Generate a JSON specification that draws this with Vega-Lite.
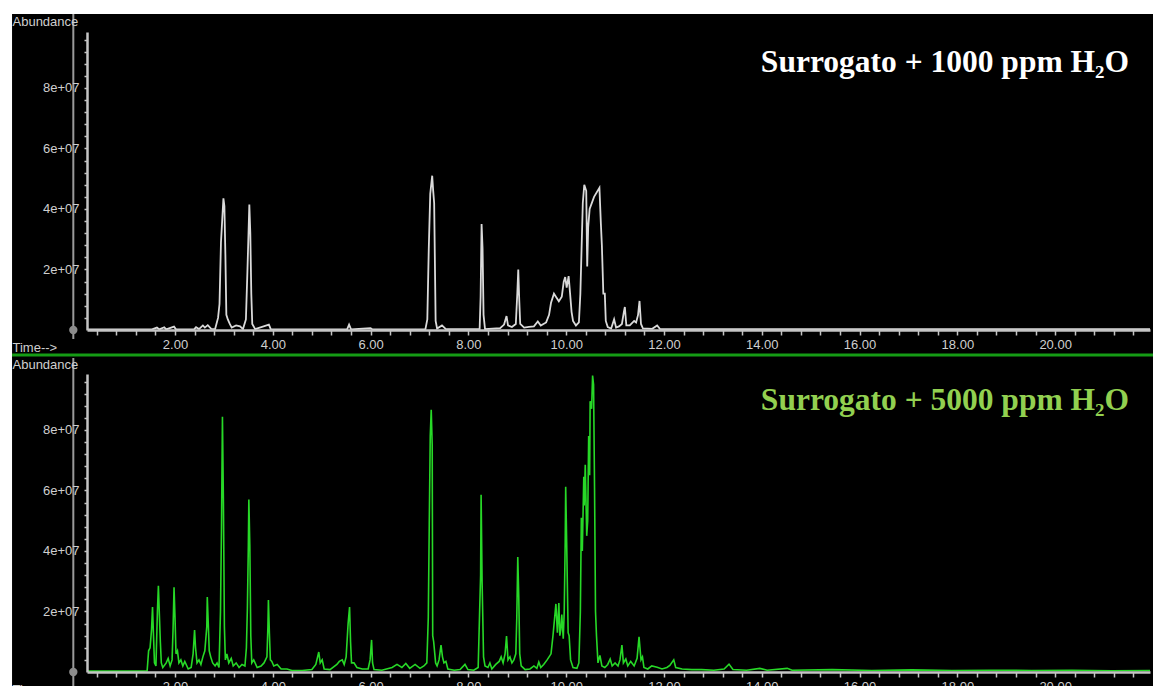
{
  "$schema": "https://vega.github.io/schema/vega-lite/v6.json",
  "background": "white",
  "padding": {"left": 10, "top": 12, "right": 0, "bottom": 0},
  "bounds": "flush",
  "spacing": 44,
  "config": {
    "view": {"stroke": null},
    "axis": {"grid": false, "labelOverlap": false, "domainColor": "#c4c4c4", "domainWidth": 2.5, "tickColor": "#c4c4c4", "tickWidth": 1.5, "labelColor": "#cfcfcf", "labelFont": "Liberation Sans", "labelFontSize": 13, "titleColor": "#cfcfcf", "titleFont": "Liberation Sans", "titleFontSize": 13, "titleFontWeight": "normal"}
  },
  "datasets": {
    "top": [
      {"time":0.2,"abundance":2e5},{"time":1.53,"abundance":2e5},{"time":1.63,"abundance":8e5},{"time":1.68,"abundance":2e5},{"time":1.78,"abundance":9e5},{"time":1.82,"abundance":2e5},{"time":1.98,"abundance":1.1e6},{"time":2.02,"abundance":2e5},{"time":2.39,"abundance":2e5},{"time":2.43,"abundance":9e5},{"time":2.49,"abundance":3e5},{"time":2.57,"abundance":1.5e6},{"time":2.61,"abundance":8e5},{"time":2.67,"abundance":1.6e6},{"time":2.74,"abundance":4e5},{"time":2.82,"abundance":3e5},{"time":2.88,"abundance":4e6},{"time":2.91,"abundance":8.6e6},{"time":2.94,"abundance":2.9e7},{"time":2.99,"abundance":4.35e7},{"time":3.01,"abundance":4.1e7},{"time":3.03,"abundance":2.5e7},{"time":3.05,"abundance":5e6},{"time":3.08,"abundance":3.5e6},{"time":3.12,"abundance":2e6},{"time":3.16,"abundance":8e5},{"time":3.25,"abundance":1.5e6},{"time":3.33,"abundance":1.2e6},{"time":3.39,"abundance":3e5},{"time":3.45,"abundance":3.5e6},{"time":3.48,"abundance":1.9e7},{"time":3.52,"abundance":4.15e7},{"time":3.54,"abundance":3.2e7},{"time":3.56,"abundance":1.2e7},{"time":3.58,"abundance":2e6},{"time":3.64,"abundance":3e5},{"time":3.92,"abundance":1.8e6},{"time":3.96,"abundance":2e5},{"time":5.52,"abundance":2e5},{"time":5.56,"abundance":1.8e6},{"time":5.6,"abundance":2e5},{"time":6.0,"abundance":6e5},{"time":6.04,"abundance":2e5},{"time":7.12,"abundance":2e5},{"time":7.16,"abundance":3.5e6},{"time":7.19,"abundance":2.7e7},{"time":7.22,"abundance":4.5e7},{"time":7.26,"abundance":5.1e7},{"time":7.28,"abundance":4.6e7},{"time":7.3,"abundance":4.2e7},{"time":7.33,"abundance":3e6},{"time":7.36,"abundance":5e5},{"time":7.46,"abundance":1.5e6},{"time":7.54,"abundance":3e5},{"time":8.23,"abundance":3e5},{"time":8.25,"abundance":1.1e7},{"time":8.27,"abundance":3.5e7},{"time":8.29,"abundance":2.7e7},{"time":8.31,"abundance":5e6},{"time":8.34,"abundance":3e5},{"time":8.65,"abundance":6e5},{"time":8.73,"abundance":1.8e6},{"time":8.78,"abundance":4.6e6},{"time":8.81,"abundance":1.5e6},{"time":8.89,"abundance":1e6},{"time":8.97,"abundance":2e6},{"time":9.0,"abundance":1.2e7},{"time":9.02,"abundance":2e7},{"time":9.04,"abundance":1e7},{"time":9.06,"abundance":2e6},{"time":9.14,"abundance":8e5},{"time":9.24,"abundance":1e6},{"time":9.34,"abundance":1.2e6},{"time":9.42,"abundance":2.8e6},{"time":9.48,"abundance":1.5e6},{"time":9.59,"abundance":2.5e6},{"time":9.65,"abundance":5e6},{"time":9.69,"abundance":9e6},{"time":9.75,"abundance":1.2e7},{"time":9.79,"abundance":1.1e7},{"time":9.85,"abundance":9.5e6},{"time":9.91,"abundance":1.1e7},{"time":9.95,"abundance":1.6e7},{"time":9.98,"abundance":1.75e7},{"time":10.01,"abundance":1.4e7},{"time":10.05,"abundance":1.78e7},{"time":10.08,"abundance":1.2e7},{"time":10.11,"abundance":6e6},{"time":10.14,"abundance":3e6},{"time":10.2,"abundance":1.5e6},{"time":10.26,"abundance":2.5e6},{"time":10.29,"abundance":1.2e7},{"time":10.32,"abundance":3e7},{"time":10.34,"abundance":4.2e7},{"time":10.37,"abundance":4.8e7},{"time":10.41,"abundance":4.6e7},{"time":10.43,"abundance":2.1e7},{"time":10.45,"abundance":3.4e7},{"time":10.48,"abundance":4e7},{"time":10.57,"abundance":4.4e7},{"time":10.68,"abundance":4.7e7},{"time":10.71,"abundance":3.5e7},{"time":10.73,"abundance":2.8e7},{"time":10.76,"abundance":1.2e7},{"time":10.79,"abundance":1.2e7},{"time":10.81,"abundance":3e6},{"time":10.85,"abundance":1e6},{"time":10.92,"abundance":5e5},{"time":10.98,"abundance":3.5e6},{"time":11.02,"abundance":8e5},{"time":11.08,"abundance":1.2e6},{"time":11.14,"abundance":2e6},{"time":11.18,"abundance":6e6},{"time":11.2,"abundance":7.6e6},{"time":11.23,"abundance":1.5e6},{"time":11.3,"abundance":1.5e6},{"time":11.39,"abundance":3e6},{"time":11.43,"abundance":2.5e6},{"time":11.47,"abundance":5e6},{"time":11.5,"abundance":9.6e6},{"time":11.53,"abundance":2e6},{"time":11.57,"abundance":5e5},{"time":11.76,"abundance":4e5},{"time":11.86,"abundance":1.5e6},{"time":11.92,"abundance":3e5},{"time":21.94,"abundance":3e5}
    ],
    "bottom": [
      {"time":0.2,"abundance":3e5},{"time":1.33,"abundance":3e5},{"time":1.43,"abundance":4e5},{"time":1.46,"abundance":7e6},{"time":1.49,"abundance":8e6},{"time":1.52,"abundance":1.4e7},{"time":1.54,"abundance":2.15e7},{"time":1.56,"abundance":1.2e7},{"time":1.58,"abundance":3e6},{"time":1.61,"abundance":2e6},{"time":1.64,"abundance":2e7},{"time":1.66,"abundance":2.85e7},{"time":1.68,"abundance":1.9e7},{"time":1.7,"abundance":1e7},{"time":1.72,"abundance":3e6},{"time":1.75,"abundance":1.5e6},{"time":1.82,"abundance":3e6},{"time":1.86,"abundance":4.5e6},{"time":1.9,"abundance":2e6},{"time":1.94,"abundance":4e6},{"time":1.96,"abundance":1.4e7},{"time":1.98,"abundance":2.8e7},{"time":2.0,"abundance":1.8e7},{"time":2.02,"abundance":6e6},{"time":2.05,"abundance":7e6},{"time":2.08,"abundance":3e6},{"time":2.12,"abundance":4e6},{"time":2.16,"abundance":2e6},{"time":2.2,"abundance":3.5e6},{"time":2.27,"abundance":1e6},{"time":2.33,"abundance":1.5e6},{"time":2.37,"abundance":6e6},{"time":2.4,"abundance":1.39e7},{"time":2.42,"abundance":8e6},{"time":2.45,"abundance":3e6},{"time":2.49,"abundance":4e6},{"time":2.53,"abundance":2.5e6},{"time":2.57,"abundance":5e6},{"time":2.61,"abundance":7e6},{"time":2.65,"abundance":1.5e7},{"time":2.66,"abundance":2.48e7},{"time":2.68,"abundance":1.6e7},{"time":2.7,"abundance":7e6},{"time":2.73,"abundance":5e6},{"time":2.77,"abundance":3e6},{"time":2.82,"abundance":2e6},{"time":2.86,"abundance":3e6},{"time":2.9,"abundance":1.5e6},{"time":2.93,"abundance":2e7},{"time":2.95,"abundance":4.7e7},{"time":2.97,"abundance":8.44e7},{"time":2.99,"abundance":5.6e7},{"time":3.01,"abundance":1.5e7},{"time":3.03,"abundance":4e6},{"time":3.06,"abundance":6e6},{"time":3.1,"abundance":3e6},{"time":3.15,"abundance":4.5e6},{"time":3.19,"abundance":2e6},{"time":3.25,"abundance":3e6},{"time":3.31,"abundance":1.5e6},{"time":3.37,"abundance":2.5e6},{"time":3.43,"abundance":2e6},{"time":3.46,"abundance":8e6},{"time":3.48,"abundance":2.1e7},{"time":3.5,"abundance":4.2e7},{"time":3.51,"abundance":5.7e7},{"time":3.53,"abundance":4.2e7},{"time":3.55,"abundance":1.2e7},{"time":3.57,"abundance":3e6},{"time":3.61,"abundance":4e6},{"time":3.68,"abundance":1.5e6},{"time":3.76,"abundance":2e6},{"time":3.82,"abundance":3e6},{"time":3.88,"abundance":5e6},{"time":3.9,"abundance":1.5e7},{"time":3.91,"abundance":2.38e7},{"time":3.93,"abundance":1.3e7},{"time":3.95,"abundance":4e6},{"time":3.98,"abundance":3.5e6},{"time":4.02,"abundance":2e6},{"time":4.09,"abundance":2.5e6},{"time":4.17,"abundance":1e6},{"time":4.29,"abundance":1e6},{"time":4.39,"abundance":5e5},{"time":4.6,"abundance":5e5},{"time":4.8,"abundance":8e5},{"time":4.88,"abundance":2.5e6},{"time":4.94,"abundance":6.6e6},{"time":4.97,"abundance":3e6},{"time":5.01,"abundance":4e6},{"time":5.05,"abundance":1e6},{"time":5.17,"abundance":8e5},{"time":5.31,"abundance":2.5e6},{"time":5.36,"abundance":3.5e6},{"time":5.42,"abundance":4e6},{"time":5.46,"abundance":2.5e6},{"time":5.5,"abundance":5e6},{"time":5.54,"abundance":1.6e7},{"time":5.57,"abundance":2.15e7},{"time":5.59,"abundance":1e7},{"time":5.61,"abundance":3e6},{"time":5.66,"abundance":3e6},{"time":5.72,"abundance":1.5e6},{"time":5.83,"abundance":1e6},{"time":5.95,"abundance":1e6},{"time":5.99,"abundance":4e6},{"time":6.02,"abundance":1.06e7},{"time":6.04,"abundance":3e6},{"time":6.07,"abundance":8e5},{"time":6.23,"abundance":6e5},{"time":6.44,"abundance":1.5e6},{"time":6.54,"abundance":2.5e6},{"time":6.64,"abundance":1.5e6},{"time":6.72,"abundance":2.8e6},{"time":6.8,"abundance":1.2e6},{"time":6.91,"abundance":2.5e6},{"time":7.01,"abundance":1.2e6},{"time":7.09,"abundance":2e6},{"time":7.15,"abundance":3e6},{"time":7.18,"abundance":1.8e7},{"time":7.2,"abundance":4.9e7},{"time":7.22,"abundance":7.8e7},{"time":7.24,"abundance":8.67e7},{"time":7.26,"abundance":7.5e7},{"time":7.27,"abundance":1.2e7},{"time":7.29,"abundance":1e7},{"time":7.33,"abundance":3e6},{"time":7.36,"abundance":2e6},{"time":7.4,"abundance":4e6},{"time":7.44,"abundance":8.9e6},{"time":7.47,"abundance":5e6},{"time":7.5,"abundance":3e6},{"time":7.54,"abundance":3.5e6},{"time":7.58,"abundance":1e6},{"time":7.71,"abundance":6e5},{"time":7.83,"abundance":8e5},{"time":7.93,"abundance":2.5e6},{"time":7.99,"abundance":8e5},{"time":8.11,"abundance":6e5},{"time":8.2,"abundance":1.5e6},{"time":8.23,"abundance":2e7},{"time":8.25,"abundance":3.2e7},{"time":8.26,"abundance":5.86e7},{"time":8.28,"abundance":3e7},{"time":8.31,"abundance":5e6},{"time":8.34,"abundance":2e6},{"time":8.4,"abundance":1.5e6},{"time":8.44,"abundance":3e6},{"time":8.48,"abundance":1e6},{"time":8.56,"abundance":2.5e6},{"time":8.63,"abundance":3.5e6},{"time":8.67,"abundance":5e6},{"time":8.71,"abundance":3e6},{"time":8.75,"abundance":6e6},{"time":8.78,"abundance":1.19e7},{"time":8.81,"abundance":4e6},{"time":8.85,"abundance":5e6},{"time":8.89,"abundance":3e6},{"time":8.93,"abundance":4e6},{"time":8.97,"abundance":6e6},{"time":8.99,"abundance":1.8e7},{"time":9.01,"abundance":3.8e7},{"time":9.03,"abundance":2.5e7},{"time":9.05,"abundance":6e6},{"time":9.08,"abundance":2e6},{"time":9.16,"abundance":8e5},{"time":9.26,"abundance":1e6},{"time":9.34,"abundance":2e6},{"time":9.4,"abundance":1.2e6},{"time":9.44,"abundance":3.3e6},{"time":9.48,"abundance":1.5e6},{"time":9.54,"abundance":2.5e6},{"time":9.61,"abundance":4e6},{"time":9.65,"abundance":5e6},{"time":9.69,"abundance":6e6},{"time":9.73,"abundance":1.2e7},{"time":9.77,"abundance":1.9e7},{"time":9.79,"abundance":2.25e7},{"time":9.82,"abundance":1.3e7},{"time":9.85,"abundance":2.28e7},{"time":9.87,"abundance":1.2e7},{"time":9.89,"abundance":1.4e7},{"time":9.91,"abundance":1.9e7},{"time":9.94,"abundance":1.1e7},{"time":9.96,"abundance":2e7},{"time":9.98,"abundance":4.3e7},{"time":9.99,"abundance":6.12e7},{"time":10.01,"abundance":4.3e7},{"time":10.04,"abundance":1.3e7},{"time":10.06,"abundance":1.2e7},{"time":10.09,"abundance":4e6},{"time":10.14,"abundance":1.5e6},{"time":10.22,"abundance":1.2e6},{"time":10.26,"abundance":3e6},{"time":10.29,"abundance":2e7},{"time":10.31,"abundance":5.1e7},{"time":10.33,"abundance":4e7},{"time":10.36,"abundance":6.45e7},{"time":10.37,"abundance":5.5e7},{"time":10.39,"abundance":6.85e7},{"time":10.42,"abundance":4.5e7},{"time":10.44,"abundance":5e7},{"time":10.46,"abundance":7.8e7},{"time":10.48,"abundance":6.5e7},{"time":10.49,"abundance":8.95e7},{"time":10.52,"abundance":8.7e7},{"time":10.54,"abundance":9.8e7},{"time":10.56,"abundance":9.5e7},{"time":10.58,"abundance":6.1e7},{"time":10.6,"abundance":2e7},{"time":10.62,"abundance":1.2e7},{"time":10.65,"abundance":3e6},{"time":10.69,"abundance":5.5e6},{"time":10.73,"abundance":2e6},{"time":10.79,"abundance":1.5e6},{"time":10.85,"abundance":2.5e6},{"time":10.9,"abundance":4.3e6},{"time":10.94,"abundance":2e6},{"time":11.0,"abundance":3e6},{"time":11.06,"abundance":2e6},{"time":11.1,"abundance":4e6},{"time":11.14,"abundance":8.9e6},{"time":11.17,"abundance":3e6},{"time":11.22,"abundance":4.3e6},{"time":11.26,"abundance":2e6},{"time":11.32,"abundance":3.5e6},{"time":11.39,"abundance":2e6},{"time":11.45,"abundance":4.5e6},{"time":11.49,"abundance":1.16e7},{"time":11.53,"abundance":4e6},{"time":11.56,"abundance":5e6},{"time":11.59,"abundance":1.5e6},{"time":11.67,"abundance":1e6},{"time":11.75,"abundance":2e6},{"time":11.86,"abundance":1.6e6},{"time":11.96,"abundance":1e6},{"time":12.06,"abundance":1.5e6},{"time":12.12,"abundance":2.2e6},{"time":12.2,"abundance":4e6},{"time":12.24,"abundance":1.5e6},{"time":12.37,"abundance":1e6},{"time":12.57,"abundance":8e5},{"time":12.77,"abundance":8e5},{"time":13.02,"abundance":6e5},{"time":13.23,"abundance":1e6},{"time":13.33,"abundance":2.6e6},{"time":13.41,"abundance":8e5},{"time":13.69,"abundance":6e5},{"time":13.96,"abundance":1.2e6},{"time":14.11,"abundance":6e5},{"time":14.52,"abundance":1.2e6},{"time":14.62,"abundance":6e5},{"time":15.44,"abundance":8e5},{"time":16.25,"abundance":5e5},{"time":17.07,"abundance":7e5},{"time":17.89,"abundance":5e5},{"time":18.7,"abundance":6e5},{"time":19.52,"abundance":5e5},{"time":20.34,"abundance":6e5},{"time":21.16,"abundance":4e5},{"time":21.94,"abundance":5e5}
    ]
  },
  "vconcat": [
    {
      "width": 1063,
      "height": 298,
      "layer": [
        {
          "data": {"values": [{}]},
          "mark": {"type": "rect", "color": "black", "clip": false},
          "encoding": {
            "x": {"datum": -1.333, "type": "quantitative", "scale": {"domain": [0.2, 21.94], "nice": false, "zero": false}},
            "x2": {"datum": 22.03},
            "y": {"datum": 104450000, "type": "quantitative", "scale": {"domain": [0, 98500000], "nice": false}},
            "y2": {"datum": -9300000}
          }
        },
        {
          "data": {"values": [{}]},
          "mark": {"type": "rule", "color": "#9a9a9a", "strokeWidth": 2, "clip": false},
          "encoding": {
            "x": {"datum": -0.08, "type": "quantitative"},
            "y": {"datum": 104450000, "type": "quantitative"},
            "y2": {"datum": -2970000}
          }
        },
        {
          "data": {"values": [{}]},
          "mark": {"type": "point", "filled": true, "color": "#8c8c8c", "size": 70, "opacity": 1, "clip": false},
          "encoding": {
            "x": {"datum": -0.08, "type": "quantitative"},
            "y": {"datum": 0, "type": "quantitative"}
          }
        },
        {
          "data": {"name": "top"},
          "mark": {"type": "line", "color": "#dadada", "strokeWidth": 1.8, "clip": true},
          "encoding": {
            "x": {
              "field": "time", "type": "quantitative",
              "axis": {
                "zindex": 2, "tickCount": 100,
                "title": "Time-->", "titleX": -75, "titleY": 17, "titleAlign": "left", "titleBaseline": "middle",
                "values": [0.4,0.8,1.2,1.6,2,2.4,2.8,3.2,3.6,4,4.4,4.8,5.2,5.6,6,6.4,6.8,7.2,7.6,8,8.4,8.8,9.2,9.6,10,10.4,10.8,11.2,11.6,12,12.4,12.8,13.2,13.6,14,14.4,14.8,15.2,15.6,16,16.4,16.8,17.2,17.6,18,18.4,18.8,19.2,19.6,20,20.4,20.8,21.2,21.6],
                "labelExpr": "datum.value % 2 == 0 ? format(datum.value, '.2f') : ''",
                "tickSize": 5, "labelPadding": 3, "labelOverlap": false, "labelFlush": false
              }
            },
            "y": {
              "field": "abundance", "type": "quantitative",
              "axis": {
                "zindex": 2, "tickCount": 100,
                "title": "Abundance", "titleAngle": 0, "titleAlign": "left", "titleBaseline": "middle", "titleX": -75, "titleY": -11,
                "values": [4000000,8000000,12000000,16000000,20000000,24000000,28000000,32000000,36000000,40000000,44000000,48000000,52000000,56000000,60000000,64000000,68000000,72000000,76000000,80000000,84000000,88000000,92000000,96000000],
                "labelExpr": "datum.value % 20000000 == 0 ? (datum.value / 10000000) + 'e+07' : ''",
                "tickSize": 3, "labelPadding": 5, "labelOverlap": false
              }
            }
          }
        },
        {
          "data": {"values": [{"label": "Surrogato + 1000 ppm H₂O"}]},
          "mark": {"type": "text", "font": "Liberation Serif", "fontSize": 31.5, "fontWeight": "bold", "align": "right", "baseline": "alphabetic", "color": "white"},
          "encoding": {
            "text": {"field": "label"},
            "x": {"datum": 21.51, "type": "quantitative"},
            "y": {"datum": 85300000, "type": "quantitative"}
          }
        }
      ]
    },
    {
      "width": 1063,
      "height": 298,
      "layer": [
        {
          "data": {"values": [{}]},
          "mark": {"type": "rect", "color": "black", "clip": false},
          "encoding": {
            "x": {"datum": -1.333, "type": "quantitative", "scale": {"domain": [0.2, 21.94], "nice": false, "zero": false}},
            "x2": {"datum": 22.03},
            "y": {"datum": 104000000, "type": "quantitative", "scale": {"domain": [0, 98500000], "nice": false}},
            "y2": {"datum": -5300000}
          }
        },
        {
          "data": {"values": [{}]},
          "mark": {"type": "rule", "color": "#159c15", "strokeWidth": 3, "clip": false},
          "encoding": {
            "x": {"datum": -1.333, "type": "quantitative"},
            "x2": {"datum": 22.03},
            "y": {"datum": 104800000, "type": "quantitative"}
          }
        },
        {
          "data": {"values": [{}]},
          "mark": {"type": "rule", "color": "#9a9a9a", "strokeWidth": 2, "clip": false},
          "encoding": {
            "x": {"datum": -0.08, "type": "quantitative"},
            "y": {"datum": 103800000, "type": "quantitative"},
            "y2": {"datum": -5300000}
          }
        },
        {
          "data": {"values": [{}]},
          "mark": {"type": "point", "filled": true, "color": "#8c8c8c", "size": 70, "opacity": 1, "clip": false},
          "encoding": {
            "x": {"datum": -0.08, "type": "quantitative"},
            "y": {"datum": 0, "type": "quantitative"}
          }
        },
        {
          "data": {"name": "bottom"},
          "mark": {"type": "line", "color": "#27d827", "strokeWidth": 1.6, "clip": true},
          "encoding": {
            "x": {
              "field": "time", "type": "quantitative",
              "axis": {
                "zindex": 2, "tickCount": 100,
                "title": "Time-->", "titleX": -75, "titleY": 17, "titleAlign": "left", "titleBaseline": "middle",
                "values": [0.4,0.8,1.2,1.6,2,2.4,2.8,3.2,3.6,4,4.4,4.8,5.2,5.6,6,6.4,6.8,7.2,7.6,8,8.4,8.8,9.2,9.6,10,10.4,10.8,11.2,11.6,12,12.4,12.8,13.2,13.6,14,14.4,14.8,15.2,15.6,16,16.4,16.8,17.2,17.6,18,18.4,18.8,19.2,19.6,20,20.4,20.8,21.2,21.6],
                "labelExpr": "datum.value % 2 == 0 ? format(datum.value, '.2f') : ''",
                "tickSize": 5, "labelPadding": 3, "labelOverlap": false, "labelFlush": false
              }
            },
            "y": {
              "field": "abundance", "type": "quantitative",
              "axis": {
                "zindex": 2, "tickCount": 100,
                "title": "Abundance", "titleAngle": 0, "titleAlign": "left", "titleBaseline": "middle", "titleX": -75, "titleY": -10,
                "values": [4000000,8000000,12000000,16000000,20000000,24000000,28000000,32000000,36000000,40000000,44000000,48000000,52000000,56000000,60000000,64000000,68000000,72000000,76000000,80000000,84000000,88000000,92000000,96000000],
                "labelExpr": "datum.value % 20000000 == 0 ? (datum.value / 10000000) + 'e+07' : ''",
                "tickSize": 3, "labelPadding": 5, "labelOverlap": false
              }
            }
          }
        },
        {
          "data": {"values": [{"label": "Surrogato + 5000 ppm H₂O"}]},
          "mark": {"type": "text", "font": "Liberation Serif", "fontSize": 31.5, "fontWeight": "bold", "align": "right", "baseline": "alphabetic", "color": "#92d050"},
          "encoding": {
            "text": {"field": "label"},
            "x": {"datum": 21.51, "type": "quantitative"},
            "y": {"datum": 86600000, "type": "quantitative"}
          }
        }
      ]
    }
  ]
}
